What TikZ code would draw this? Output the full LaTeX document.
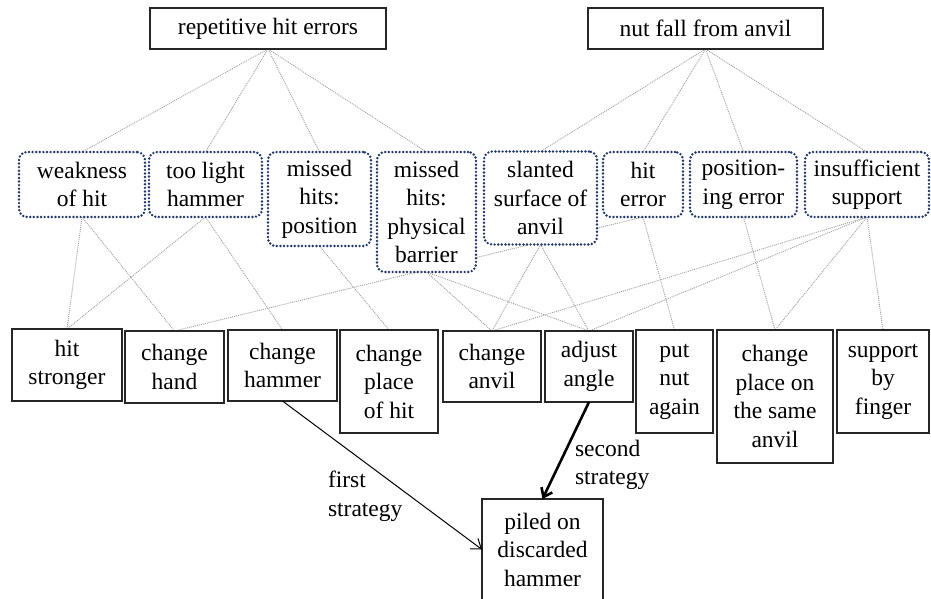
\documentclass[tikz,border=0pt]{standalone}
\usepackage{fontspec}
\setmainfont{Liberation Serif}
\usetikzlibrary{arrows.meta,backgrounds}
\definecolor{navyc}{RGB}{31,56,105}
\definecolor{linkc}{RGB}{160,160,160}
\begin{document}
\begin{tikzpicture}[x=1pt,y=-1pt,
  every node/.style={font=\fontsize{23.5}{28.5}\selectfont, align=center, inner sep=0pt, outer sep=0pt},
  topbox/.style={draw=black!85, line width=1.2pt, fill=white},
  cause/.style={draw=navyc, line width=2.7pt, dash pattern=on 0pt off 3.6pt, line cap=round, rounded corners=8pt, fill=white},
  action/.style={draw=black!85, line width=1.2pt, fill=white},
  link/.style={draw=linkc, line width=0.9pt, dash pattern=on 1pt off 1pt},
  strat/.style={align=left, anchor=north west},
]
\useasboundingbox (0,0) rectangle (931,598);

% top problems
\node[topbox, minimum width=236pt, minimum height=41pt] (rhe) at (268,28.5) {repetitive hit errors};
\node[topbox, minimum width=235pt, minimum height=41pt] (nfa) at (705.5,28.5) {nut fall from anvil};

% causes
\node[cause, minimum width=126pt, minimum height=65pt] (c1) at (82,184.5) {weakness\\of hit};
\node[cause, minimum width=113pt, minimum height=65pt] (c2) at (205.5,184.5) {too light\\hammer};
\node[cause, minimum width=103pt, minimum height=94pt] (c3) at (319.5,199) {missed\\hits:\\position};
\node[cause, minimum width=99pt, minimum height=120pt] (c4) at (426.5,212) {missed\\hits:\\physical\\barrier};
\node[cause, minimum width=113pt, minimum height=93pt] (c5) at (540.5,198) {slanted\\surface of\\anvil};
\node[cause, minimum width=80pt, minimum height=65pt] (c6) at (643,184.5) {hit\\error};
\node[cause, minimum width=107pt, minimum height=65pt] (c7) at (743.5,184.5) {position-\\ing error};
\node[cause, minimum width=124pt, minimum height=65pt] (c8) at (867,184.5) {insufficient\\support};

% actions
\node[action, minimum width=110pt, minimum height=72pt] (a1) at (67,365) {hit\\stronger};
\node[action, minimum width=99pt, minimum height=72pt] (a2) at (174.5,367) {change\\hand};
\node[action, minimum width=109pt, minimum height=71pt] (a3) at (282.5,365.5) {change\\hammer};
\node[action, minimum width=98pt, minimum height=103pt] (a4) at (389,381.5) {change\\place\\of hit};
\node[action, minimum width=98pt, minimum height=71pt] (a5) at (492,366.5) {change\\anvil};
\node[action, minimum width=88pt, minimum height=71pt] (a6) at (589,366.5) {adjust\\angle};
\node[action, minimum width=77pt, minimum height=103pt] (a7) at (674.5,381.5) {put\\nut\\again};
\node[action, minimum width=116pt, minimum height=133pt] (a8) at (775,396.5) {change\\place on\\the same\\anvil};
\node[action, minimum width=92pt, minimum height=103pt] (a9) at (883,381.5) {support\\by\\finger};

% result
\node[action, minimum width=121pt, minimum height=101pt] (p) at (542.5,549.5) {piled on\\discarded\\hammer};

\begin{pgfonlayer}{background}
  \foreach \c in {c1,c2,c3,c4} \draw[link] (rhe.south) -- (\c.north);
  \foreach \c in {c5,c6,c7,c8} \draw[link] (nfa.south) -- (\c.north);
  \draw[link] (c1.south) -- (a1.north);
  \draw[link] (c1.south) -- (a2.north);
  \draw[link] (c2.south) -- (a1.north);
  \draw[link] (c2.south) -- (a3.north);
  \draw[link] (c3.south) -- (a4.north);
  \draw[link] (c4.south) -- (a5.north);
  \draw[link] (c4.south) -- (a6.north);
  \draw[link] (c5.south) -- (a5.north);
  \draw[link] (c5.south) -- (a6.north);
  \draw[link] (c6.south) -- (a2.north);
  \draw[link] (c6.south) -- (a7.north);
  \draw[link] (c7.south) -- (a8.north);
  \draw[link] (c8.south) -- (a5.north);
  \draw[link] (c8.south) -- (a6.north);
  \draw[link] (c8.south) -- (a8.north);
  \draw[link] (c8.south) -- (a9.north);
\end{pgfonlayer}

% strategies
\draw[line width=1pt, -{Straight Barb[length=9pt,width=13pt]}] (a3.south) -- (p.west);
\draw[line width=2.6pt, -{Straight Barb[length=8pt,width=12pt]}] (a6.south) -- (p.north);
\node[strat] (s1) at (328,471) {first\\strategy};
\node[strat] (s2) at (575,440) {second\\strategy};
\end{tikzpicture}
\end{document}
